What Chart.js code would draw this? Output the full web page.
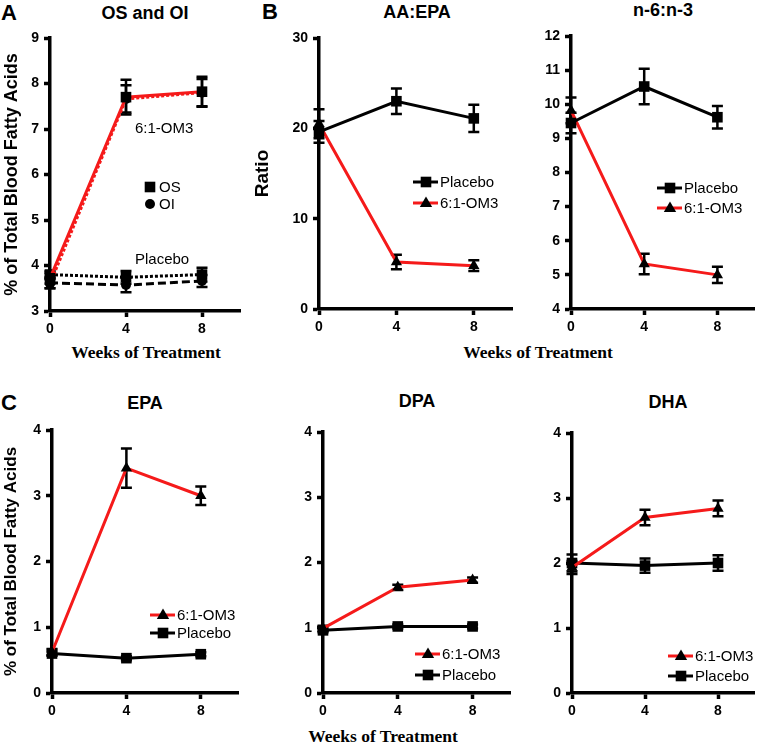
<!DOCTYPE html>
<html lang="en">
<head>
    <meta charset="UTF-8">
    <title>Omega-3 blood fatty acids</title>
    <script src="https://cdn.jsdelivr.net/npm/chart.js"></script>
    <style>
        body {
            margin: 0;
            background: #fff;
        }

        #page {
            position: relative;
            width: 762px;
            height: 744px;
            font-family: "Liberation Sans", Arial, sans-serif;
        }

        canvas {
            position: absolute;
        }

        .lbl {
            position: absolute;
            transform: translate(-50%, -50%);
            white-space: nowrap;
            font-weight: bold;
            color: #000;
        }

        .letter { font-size: 22px; }
        .ttl { font-size: 18px; }
        .xt {
            font-family: "Liberation Serif", "Times New Roman", serif;
            font-size: 17.5px;
        }
    </style>
</head>
<body>
<div id="page">
    <div class="lbl letter" style="left:9px; top:13px">A</div>
    <div class="lbl letter" style="left:270px; top:12px">B</div>
    <div class="lbl letter" style="left:9px; top:403px">C</div>

    <div class="lbl ttl" style="left:145px; top:13px">OS and OI</div>
    <div class="lbl ttl" style="left:417px; top:12px">AA:EPA</div>
    <div class="lbl ttl" style="left:663px; top:10px">n-6:n-3</div>
    <div class="lbl ttl" style="left:145px; top:403px">EPA</div>
    <div class="lbl ttl" style="left:417px; top:401px">DPA</div>
    <div class="lbl ttl" style="left:668px; top:402px">DHA</div>

    <div class="lbl xt" style="left:146px; top:352px">Weeks of Treatment</div>
    <div class="lbl xt" style="left:538px; top:352px">Weeks of Treatment</div>
    <div class="lbl xt" style="left:383px; top:736px">Weeks of Treatment</div>

    <canvas id="pA" width="250" height="340" style="left:0px; top:0px"></canvas>
    <canvas id="pB" width="270" height="340" style="left:250px; top:0px"></canvas>
    <canvas id="pN" width="242" height="340" style="left:520px; top:0px"></canvas>
    <canvas id="pEPA" width="250" height="340" style="left:0px; top:380px"></canvas>
    <canvas id="pDPA" width="270" height="340" style="left:250px; top:380px"></canvas>
    <canvas id="pDHA" width="242" height="340" style="left:520px; top:380px"></canvas>
</div>

<script>
// Wochen / x-Werte
const weeks = [0, 4, 8];
const weekTicks = [0, 4, 8];

// A: OS and OI
const osOm3 = [3.72, 7.70, 7.82];
const osOm3Err = [0.12, 0.38, 0.33];
const oiOm3 = [3.60, 7.66, 7.80];
const oiOm3Err = [0.10, 0.30, 0.30];
const osPlacebo = [3.80, 3.74, 3.80];
const osPlaceboErr = [0.08, 0.14, 0.15];
const oiPlacebo = [3.62, 3.57, 3.66];
const oiPlaceboErr = [0.12, 0.16, 0.13];

// B: AA:EPA
const aaEpaPlacebo = [19.6, 23.0, 21.1];
const aaEpaPlaceboErr = [1.2, 1.4, 1.5];
const aaEpaOm3 = [20.5, 5.2, 4.8];
const aaEpaOm3Err = [1.6, 0.8, 0.6];

// B: n-6:n-3
const n6n3Placebo = [9.45, 10.52, 9.62];
const n6n3PlaceboErr = [0.3, 0.52, 0.33];
const n6n3Om3 = [9.82, 5.32, 5.00];
const n6n3Om3Err = [0.38, 0.3, 0.24];

// C: EPA, DPA, DHA
const epaOm3 = [0.62, 3.42, 3.00];
const epaOm3Err = [0.05, 0.30, 0.14];
const epaPlacebo = [0.60, 0.53, 0.59];
const epaPlaceboErr = [0.03, 0.03, 0.03];

const dpaOm3 = [0.99, 1.62, 1.73];
const dpaOm3Err = [0.04, 0.04, 0.04];
const dpaPlacebo = [0.96, 1.02, 1.02];
const dpaPlaceboErr = [0.03, 0.03, 0.03];

const dhaOm3 = [1.93, 2.70, 2.84];
const dhaOm3Err = [0.10, 0.12, 0.12];
const dhaPlacebo = [2.00, 1.96, 2.00];
const dhaPlaceboErr = [0.13, 0.11, 0.12];

const RED = '#f51a1a';
const BLACK = '#000';
const TICK_FONT = { family: '"Liberation Sans", Arial, sans-serif', size: 14, weight: 'bold' };

function markerPath(ctx, style, x, y, r) {
    ctx.beginPath();
    if (style === 'rect') {
        const s = r * Math.SQRT1_2;
        ctx.rect(x - s, y - s, 2 * s, 2 * s);
    } else if (style === 'triangle') {
        ctx.moveTo(x, y - r);
        ctx.lineTo(x + r * 0.95, y + r * 0.6);
        ctx.lineTo(x - r * 0.95, y + r * 0.6);
        ctx.closePath();
    } else {
        ctx.arc(x, y, r, 0, Math.PI * 2);
    }
    ctx.fillStyle = BLACK;
    ctx.fill();
}

// Fehlerbalken (SEM) aus den errors-Arrays
const errorBars = {
    id: 'errorBars',
    beforeDatasetsDraw(chart) {
        const ctx = chart.ctx;
        const xs = chart.scales.x, ys = chart.scales.y;
        ctx.save();
        ctx.strokeStyle = BLACK;
        ctx.lineWidth = 2.5;
        chart.data.datasets.forEach(ds => {
            if (!ds.errors) return;
            ds.data.forEach((pt, j) => {
                const px = xs.getPixelForValue(pt.x);
                const top = ys.getPixelForValue(pt.y + ds.errors[j]);
                const bot = ys.getPixelForValue(pt.y - ds.errors[j]);
                ctx.beginPath();
                ctx.moveTo(px, top); ctx.lineTo(px, bot);
                ctx.moveTo(px - 5.5, top); ctx.lineTo(px + 5.5, top);
                ctx.moveTo(px - 5.5, bot); ctx.lineTo(px + 5.5, bot);
                ctx.stroke();
            });
        });
        ctx.restore();
    }
};

// Legende und Beschriftungen innerhalb der Zeichenfläche
const panelKey = {
    id: 'panelKey',
    afterDraw(chart, args, opts) {
        const ctx = chart.ctx;
        const area = chart.chartArea;
        ctx.save();
        ctx.font = '15px "Liberation Sans", Arial, sans-serif';
        ctx.textBaseline = 'middle';
        ctx.fillStyle = BLACK;
        (opts.items || []).forEach((it, k) => {
            const ds = chart.data.datasets[it.ds];
            const x = area.left + opts.x;
            const y = area.top + opts.y + k * opts.gap;
            if (it.line !== false) {
                ctx.strokeStyle = ds.borderColor;
                ctx.lineWidth = 3;
                ctx.setLineDash([]);
                ctx.beginPath();
                ctx.moveTo(x, y); ctx.lineTo(x + 25, y);
                ctx.stroke();
                markerPath(ctx, ds.pointStyle, x + 13, y, ds.pointRadius);
                ctx.fillText(it.text || ds.label, x + 27, y + 1);
            } else {
                markerPath(ctx, it.style, x + 4, y, it.r);
                ctx.fillText(it.text, x + 13, y + 1);
            }
        });
        (opts.notes || []).forEach(n => {
            ctx.fillText(n.text, area.left + n.x, area.top + n.y);
        });
        ctx.restore();
    }
};

function series(label, data, errors, color, style, dash) {
    return {
        label: label,
        data: data.map((v, i) => ({ x: weeks[i], y: v })),
        errors: errors,
        borderColor: color,
        borderWidth: 3,
        borderDash: dash || [],
        pointStyle: style,
        pointRadius: style === 'circle' ? 5 : (style === 'triangle' ? 6.5 : 7.5),
        pointBackgroundColor: BLACK,
        pointBorderColor: BLACK,
        pointBorderWidth: 0,
        clip: false,
        tension: 0
    };
}

function makePanel(id, p) {
    const yScale = {
        min: p.yMin, max: p.yMax,
        ticks: { stepSize: p.yStep, color: BLACK, font: TICK_FONT, padding: 5 },
        grid: { drawOnChartArea: false, drawTicks: true, tickLength: 6, tickWidth: 3.5, tickColor: BLACK },
        border: { display: true, color: BLACK, width: 3.5 },
        afterFit: s => { s.width = p.yWidth; }
    };
    if (p.yTitle) {
        yScale.title = {
            display: true, text: p.yTitle, color: BLACK, padding: { top: 1, bottom: 0 },
            font: { family: '"Liberation Sans", Arial, sans-serif', size: p.yTitleSize || 18, weight: 'bold' }
        };
    }
    new Chart(document.getElementById(id), {
        type: 'line',
        data: { datasets: p.datasets },
        options: {
            responsive: false,
            animation: false,
            devicePixelRatio: 1,
            layout: { padding: { top: p.top, right: p.right, left: 0, bottom: 0 } },
            plugins: {
                legend: { display: false },
                tooltip: { enabled: false },
                panelKey: p.key
            },
            scales: {
                x: {
                    type: 'linear', min: 0, max: 10,
                    afterBuildTicks: s => { s.ticks = weekTicks.map(v => ({ value: v })); },
                    ticks: { color: BLACK, font: TICK_FONT, padding: 4 },
                    grid: { drawOnChartArea: false, drawTicks: true, tickLength: 6, tickWidth: 3.5, tickColor: BLACK },
                    border: { display: true, color: BLACK, width: 3.5 },
                    afterFit: s => { s.height = p.xHeight; }
                },
                y: yScale
            }
        },
        plugins: [errorBars, panelKey]
    });
}

// Panel A
makePanel('pA', {
    yMin: 3, yMax: 9, yStep: 1, yWidth: 50, top: 38, right: 10, xHeight: 29,
    yTitle: '% of Total Blood Fatty Acids',
    datasets: [
        series('OS 6:1-OM3', osOm3, osOm3Err, RED, 'rect'),
        series('OI 6:1-OM3', oiOm3, oiOm3Err, RED, 'circle', [3, 2]),
        series('OS Placebo', osPlacebo, osPlaceboErr, BLACK, 'rect', [3, 2]),
        series('OI Placebo', oiPlacebo, oiPlaceboErr, BLACK, 'circle', [8, 4])
    ],
    key: {
        x: 96, y: 149, gap: 17,
        items: [
            { line: false, style: 'rect', r: 7.5, text: 'OS' },
            { line: false, style: 'circle', r: 5, text: 'OI' }
        ],
        notes: [
            { text: '6:1-OM3', x: 85, y: 91 },
            { text: 'Placebo', x: 85, y: 222 }
        ]
    }
});

// Panel B: AA:EPA
makePanel('pB', {
    yMin: 0, yMax: 30, yStep: 10, yWidth: 69, top: 38, right: 6, xHeight: 31,
    yTitle: 'Ratio', yTitleSize: 19,
    datasets: [
        series('Placebo', aaEpaPlacebo, aaEpaPlaceboErr, BLACK, 'rect'),
        series('6:1-OM3', aaEpaOm3, aaEpaOm3Err, RED, 'triangle')
    ],
    key: { x: 94, y: 144, gap: 21, items: [{ ds: 0 }, { ds: 1 }] }
});

// Panel B: n-6:n-3
makePanel('pN', {
    yMin: 4, yMax: 12, yStep: 1, yWidth: 51, top: 36, right: 8, xHeight: 31,
    datasets: [
        series('Placebo', n6n3Placebo, n6n3PlaceboErr, BLACK, 'rect'),
        series('6:1-OM3', n6n3Om3, n6n3Om3Err, RED, 'triangle')
    ],
    key: { x: 86, y: 152, gap: 20, items: [{ ds: 0 }, { ds: 1 }] }
});

// Panel C: EPA
makePanel('pEPA', {
    yMin: 0, yMax: 4, yStep: 1, yWidth: 52, top: 50, right: 12, xHeight: 27,
    yTitle: '% of Total Blood Fatty Acids', yTitleSize: 17,
    datasets: [
        series('6:1-OM3', epaOm3, epaOm3Err, RED, 'triangle'),
        series('Placebo', epaPlacebo, epaPlaceboErr, BLACK, 'rect')
    ],
    key: { x: 98, y: 185, gap: 18, items: [{ ds: 0 }, { ds: 1 }] }
});

// Panel C: DPA
makePanel('pDPA', {
    yMin: 0, yMax: 4, yStep: 1, yWidth: 73, top: 52, right: 10, xHeight: 27,
    datasets: [
        series('6:1-OM3', dpaOm3, dpaOm3Err, RED, 'triangle'),
        series('Placebo', dpaPlacebo, dpaPlaceboErr, BLACK, 'rect')
    ],
    key: { x: 92, y: 222, gap: 21, items: [{ ds: 0 }, { ds: 1 }] }
});

// Panel C: DHA
makePanel('pDHA', {
    yMin: 0, yMax: 4, yStep: 1, yWidth: 52, top: 53, right: 2, xHeight: 27,
    datasets: [
        series('6:1-OM3', dhaOm3, dhaOm3Err, RED, 'triangle'),
        series('Placebo', dhaPlacebo, dhaPlaceboErr, BLACK, 'rect')
    ],
    key: { x: 96, y: 223, gap: 20, items: [{ ds: 0 }, { ds: 1 }] }
});
</script>
</body>
</html>
